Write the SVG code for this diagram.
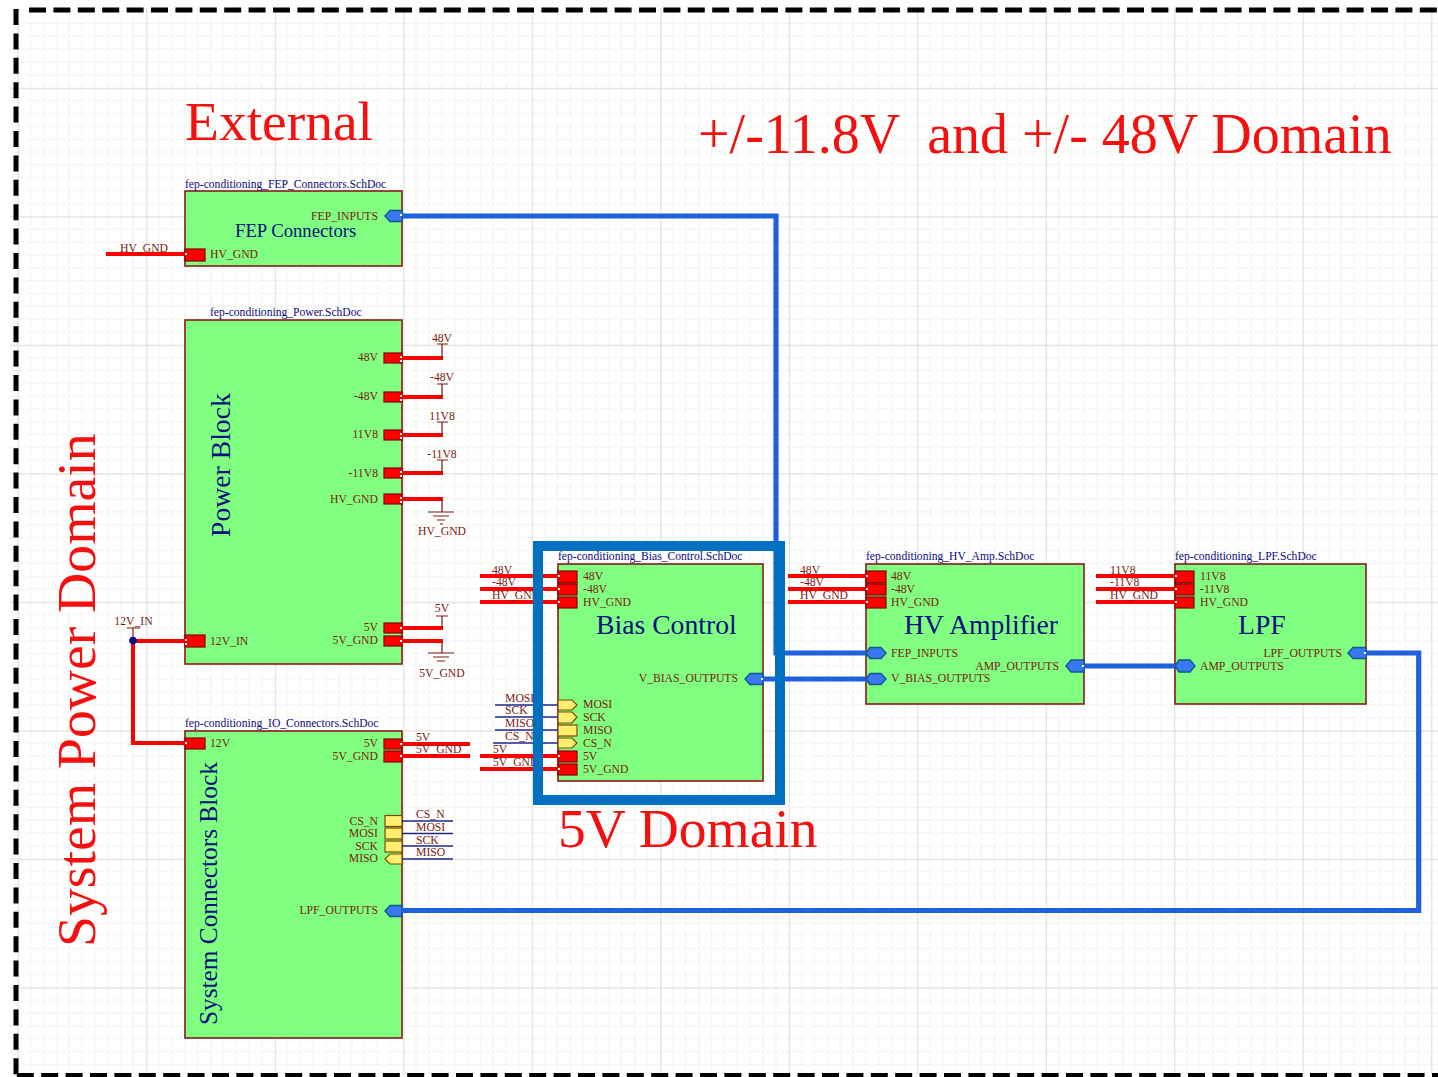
<svg xmlns="http://www.w3.org/2000/svg" width="1438" height="1077" viewBox="0 0 1438 1077">
<style>
text{font-family:"Liberation Serif","Times New Roman",serif}
.big{font-size:55.5px;fill:#f51010;white-space:pre}
.ttl{font-size:27.7px;fill:#00107f}
.sheet{font-size:11.6px;fill:#0a0a80}
.lb{font-size:11.7px;fill:#7c1a10}
.e{text-anchor:end}
.m{text-anchor:middle}
.blk{fill:#80ff80;stroke:#8a1a1a;stroke-width:1.6}
.red{fill:#ff0000;stroke:#800000;stroke-width:1.2}
.yel{fill:#ffee70;stroke:#7a4a00;stroke-width:1.2}
.hex{fill:#3a78f0;stroke:#0f5a90;stroke-width:1.4}
.wr{fill:none;stroke:#ff0000;stroke-width:4}
.wb{fill:none;stroke:#1f60dc;stroke-width:5.2}
.wn{fill:none;stroke:#1a2a90;stroke-width:1.6}
.pw{fill:none;stroke:#7c1a10;stroke-width:1.2}
.fr{fill:none;stroke:#000000;stroke-width:5}
</style>
<defs>
<pattern id="g" patternUnits="userSpaceOnUse" x="17.7" y="87.8" width="128.5" height="128.5">
<path d="M12.85 0V128.500M25.7 0V128.500M38.55 0V128.500M51.4 0V128.500M64.25 0V128.500M77.1 0V128.500M89.95 0V128.500M102.8 0V128.500M115.65 0V128.500M0 12.85H128.500M0 25.7H128.500M0 38.55H128.500M0 51.4H128.500M0 64.25H128.500M0 77.1H128.500M0 89.95H128.500M0 102.8H128.500M0 115.65H128.500" stroke="#f5f5f2" stroke-width="1.4" fill="none"/>
<path d="M0.5 0V128.500M0 0.5H128.500" stroke="#e0e0da" stroke-width="1.4" fill="none"/>
</pattern>
</defs>
<rect width="1438" height="1077" fill="#ffffff"/>
<rect x="10" y="8" width="1428" height="1067" fill="url(#g)"/>
<g id="frame">
<path class="fr" stroke-dasharray="17 7.400" d="M29 10H1438"/>
<path class="fr" stroke-dasharray="16 8.400" d="M16 9V1077"/>
<path class="fr" stroke-dasharray="17 7.400" d="M16.800 1075.500H1438"/>
</g>

<g id="fep-connectors">
<rect class="blk" x="185" y="191" width="217" height="75"/>
<rect class="red" x="185" y="249" width="20" height="12"/>
<polygon class="hex" points="385,216 390,210.500 402,210.500 402,221.500 390,221.500"/>
<text class="sheet" x="185" y="188">fep-conditioning_FEP_Connectors.SchDoc</text>
<text x="235" y="237" style="font-size:18.7px;fill:#00107f">FEP Connectors</text>
<text class="lb e" x="378" y="220">FEP_INPUTS</text>
<text class="lb" x="210" y="258">HV_GND</text>
</g>

<g id="power-block">
<rect class="blk" x="185" y="320" width="217" height="344"/>
<rect class="red" x="384" y="353" width="18" height="10"/>
<rect class="red" x="384" y="392" width="18" height="10"/>
<rect class="red" x="384" y="430" width="18" height="10"/>
<rect class="red" x="384" y="468" width="18" height="10"/>
<rect class="red" x="384" y="494" width="18" height="10"/>
<rect class="red" x="384" y="623" width="18" height="10"/>
<rect class="red" x="384" y="636" width="18" height="10"/>
<rect class="red" x="185" y="635" width="20" height="12"/>
<text class="sheet" x="210" y="316">fep-conditioning_Power.SchDoc</text>
<text class="ttl" transform="translate(230 537) rotate(-90)">Power Block</text>
<text class="lb e" x="378" y="361">48V</text>
<text class="lb e" x="378" y="400">-48V</text>
<text class="lb e" x="378" y="438">11V8</text>
<text class="lb e" x="378" y="477">-11V8</text>
<text class="lb e" x="378" y="503">HV_GND</text>
<text class="lb e" x="378" y="631">5V</text>
<text class="lb e" x="378" y="644">5V_GND</text>
<text class="lb" x="210" y="645">12V_IN</text>
</g>

<g id="io-connectors">
<rect class="blk" x="185" y="731" width="217" height="307"/>
<rect class="red" x="185" y="738" width="20" height="11"/>
<rect class="red" x="384" y="739" width="18" height="10"/>
<rect class="red" x="384" y="751" width="18" height="11"/>
<rect class="yel" x="385" y="815.500" width="17" height="11"/>
<rect class="yel" x="385" y="828" width="17" height="11"/>
<rect class="yel" x="385" y="841" width="17" height="11"/>
<polygon class="yel" points="385,859 390,854 402,854 402,864 390,864"/>
<polygon class="hex" points="385,911 390,905.500 402,905.500 402,916.500 390,916.500"/>
<text class="sheet" x="185" y="727">fep-conditioning_IO_Connectors.SchDoc</text>
<text class="ttl" style="font-size:25.300px" transform="translate(217 1025) rotate(-90)">System Connectors Block</text>
<text class="lb" x="210" y="747">12V</text>
<text class="lb e" x="378" y="747">5V</text>
<text class="lb e" x="378" y="760">5V_GND</text>
<text class="lb e" x="378" y="825">CS_N</text>
<text class="lb e" x="378" y="837">MOSI</text>
<text class="lb e" x="378" y="850">SCK</text>
<text class="lb e" x="378" y="862">MISO</text>
<text class="lb e" x="378" y="914">LPF_OUTPUTS</text>
</g>

<g id="bias-control">
<rect class="blk" x="558" y="564" width="205" height="217"/>
<rect class="red" x="558" y="571" width="19" height="12"/>
<rect class="red" x="558" y="584" width="19" height="11"/>
<rect class="red" x="558" y="597" width="19" height="11"/>
<polygon class="yel" points="558,700 572,700 577,705 572,710 558,710"/>
<polygon class="yel" points="558,712 572,712 577,717 572,723 558,723"/>
<rect class="yel" x="558" y="725" width="19" height="11"/>
<polygon class="yel" points="558,738 572,738 577,743 572,748 558,748"/>
<rect class="red" x="558" y="751" width="19" height="11"/>
<rect class="red" x="558" y="764" width="19" height="11"/>
<polygon class="hex" points="745,679 750,673.500 763,673.500 763,684.500 750,684.500"/>
<text class="sheet" x="558" y="560">fep-conditioning_Bias_Control.SchDoc</text>
<text class="ttl" x="596" y="634">Bias Control</text>
<text class="lb" x="583" y="580">48V</text>
<text class="lb" x="583" y="593">-48V</text>
<text class="lb" x="583" y="606">HV_GND</text>
<text class="lb" x="583" y="708">MOSI</text>
<text class="lb" x="583" y="721">SCK</text>
<text class="lb" x="583" y="734">MISO</text>
<text class="lb" x="583" y="747">CS_N</text>
<text class="lb" x="583" y="760">5V</text>
<text class="lb" x="583" y="773">5V_GND</text>
<text class="lb e" x="738" y="682">V_BIAS_OUTPUTS</text>
</g>

<g id="hv-amplifier">
<rect class="blk" x="866" y="564" width="218" height="140"/>
<rect class="red" x="866" y="571" width="20" height="12"/>
<rect class="red" x="866" y="584" width="20" height="11"/>
<rect class="red" x="866" y="597" width="20" height="11"/>
<polygon class="hex" points="866,653 870,647.500 881,647.500 886,653 881,658.500 870,658.500"/>
<polygon class="hex" points="866,679 870,673.500 881,673.500 886,679 881,684.500 870,684.500"/>
<polygon class="hex" points="1066,666 1071,660 1084,660 1084,672 1071,672"/>
<text class="sheet" x="866" y="560">fep-conditioning_HV_Amp.SchDoc</text>
<text class="ttl" x="904" y="634">HV Amplifier</text>
<text class="lb" x="891" y="580">48V</text>
<text class="lb" x="891" y="593">-48V</text>
<text class="lb" x="891" y="606">HV_GND</text>
<text class="lb" x="891" y="657">FEP_INPUTS</text>
<text class="lb" x="891" y="682">V_BIAS_OUTPUTS</text>
<text class="lb e" x="1059" y="670">AMP_OUTPUTS</text>
</g>

<g id="lpf">
<rect class="blk" x="1175" y="564" width="191" height="140"/>
<rect class="red" x="1175" y="571" width="19" height="12"/>
<rect class="red" x="1175" y="584" width="19" height="11"/>
<rect class="red" x="1175" y="597" width="19" height="11"/>
<polygon class="hex" points="1175,666 1179,660 1190,660 1195,666 1190,672 1179,672"/>
<polygon class="hex" points="1348,653 1353,647.500 1366,647.500 1366,658.500 1353,658.500"/>
<text class="sheet" x="1175" y="560">fep-conditioning_LPF.SchDoc</text>
<text class="ttl" x="1238" y="634">LPF</text>
<text class="lb" x="1200" y="580">11V8</text>
<text class="lb" x="1200" y="593">-11V8</text>
<text class="lb" x="1200" y="606">HV_GND</text>
<text class="lb" x="1200" y="670">AMP_OUTPUTS</text>
<text class="lb e" x="1342" y="657">LPF_OUTPUTS</text>
</g>

<g id="connectors">
<path class="wb" d="M402 216H776V653H866M763 679H866M1084 666H1175M1366 653H1418.700V910.500H402"/>
<path class="wr" d="M106 254H185M402 358H443M402 397H443M402 435H443M402 473H443M402 499H443M402 628H443M402 641H443M133 641H185M133 641V743H185M402 744H470M402 756H470M480 576H558M480 589H558M480 602H558M480 756H558M480 769H558M788 576H866M788 589H866M788 602H866M1096 576H1175M1096 589H1175M1096 602H1175"/>
<path class="wn" d="M402 821H453M402 833.500H453M402 846H453M402 859H453M495 705H558M495 717H558M495 730H558M493 743H558"/>
<path class="pw" d="M442 358V344M437 344H448M442 397V384M437 384H448M442 435V422M437 422H448M442 473V460M437 460H448M442 499V512M428 512H454M433 516H449M437 520H445M440 524H443M442 628V616M436 616H448M442 641V653M428 653H454M433 657H449M437 661H445M133 641V628M127 628H140"/>
<circle cx="133" cy="640.500" r="3.800" fill="#00107f"/>
<path fill="#ffffff" d="M400 214h2v2h-2zM185 253h2v2h-2zM400 356h2v2h-2zM400 360h2v2h-2zM400 395h2v2h-2zM400 399h2v2h-2zM400 433h2v2h-2zM400 437h2v2h-2zM400 471h2v2h-2zM400 475h2v2h-2zM400 497h2v2h-2zM400 501h2v2h-2zM400 627h2v2h-2zM400 640h2v2h-2zM185 639h2v2h-2zM185 643h2v2h-2zM185 742h2v2h-2zM400 743h2v2h-2zM400 755h2v2h-2zM558 575h2v2h-2zM558 588h2v2h-2zM558 601h2v2h-2zM558 755h2v2h-2zM558 768h2v2h-2zM761 678h2v2h-2zM866 575h2v2h-2zM866 588h2v2h-2zM866 601h2v2h-2zM1175 575h2v2h-2zM1175 588h2v2h-2zM1175 601h2v2h-2zM1082 665h2v2h-2zM1364 652h2v2h-2z"/>
</g>

<g id="net-labels">
<text class="lb m" x="144" y="252">HV_GND</text>
<text class="lb m" x="442" y="342">48V</text>
<text class="lb m" x="442" y="381">-48V</text>
<text class="lb m" x="442" y="420">11V8</text>
<text class="lb m" x="442" y="458">-11V8</text>
<text class="lb m" x="442" y="535">HV_GND</text>
<text class="lb m" x="442" y="612">5V</text>
<text class="lb m" x="442" y="677">5V_GND</text>
<text class="lb m" x="133.500" y="625">12V_IN</text>
<text class="lb" x="416" y="741">5V</text>
<text class="lb" x="416" y="753">5V_GND</text>
<text class="lb" x="416" y="818">CS_N</text>
<text class="lb" x="416" y="831">MOSI</text>
<text class="lb" x="416" y="844">SCK</text>
<text class="lb" x="416" y="856">MISO</text>
<text class="lb" x="492" y="574">48V</text>
<text class="lb" x="492" y="586">-48V</text>
<text class="lb" x="492" y="599">HV_GND</text>
<text class="lb" x="505" y="702">MOSI</text>
<text class="lb" x="505" y="714">SCK</text>
<text class="lb" x="505" y="727">MISO</text>
<text class="lb" x="505" y="740">CS_N</text>
<text class="lb" x="493" y="753">5V</text>
<text class="lb" x="493" y="766">5V_GND</text>
<text class="lb" x="800" y="574">48V</text>
<text class="lb" x="800" y="586">-48V</text>
<text class="lb" x="800" y="599">HV_GND</text>
<text class="lb" x="1110" y="574">11V8</text>
<text class="lb" x="1110" y="586">-11V8</text>
<text class="lb" x="1110" y="599">HV_GND</text>
</g>

<rect id="domain-5v" x="538" y="546" width="242" height="254" fill="none" stroke="#0070c0" stroke-width="10"/>
<g id="domain-labels">
<text class="big" x="185" y="140">External</text>
<text class="big" style="font-size:56px" x="698" y="153">+/-11.8V  and +/- 48V Domain</text>
<text class="big" x="558" y="847">5V Domain</text>
<text class="big" style="font-size:55.7px" transform="translate(95 947) rotate(-90)">System Power Domain</text>
</g>
</svg>
